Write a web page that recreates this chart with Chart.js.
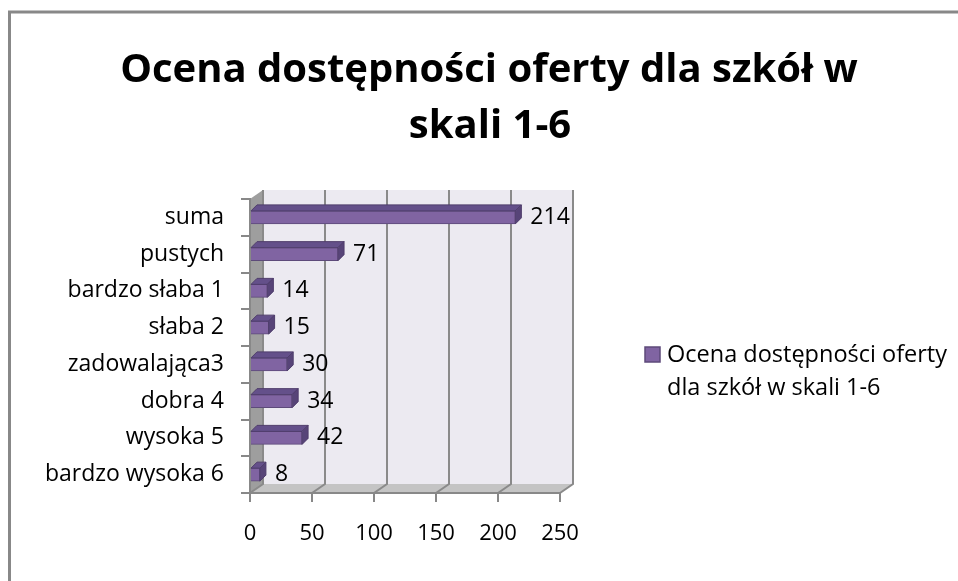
<!DOCTYPE html>
<html><head><meta charset="utf-8">
<script src="https://cdn.jsdelivr.net/npm/chart.js@4/dist/chart.umd.min.js"></script>
<style>html,body{margin:0;padding:0;background:#fff}#wrap{width:958px;height:581px}</style>
</head><body><div id="wrap"><canvas id="c" width="958" height="581"></canvas></div>
<script>
const titleLines = ["Ocena dostępności oferty dla szkół w", "skali 1-6"];
const categories = ["suma","pustych","bardzo słaba 1","słaba 2","zadowalająca3","dobra 4","wysoka 5","bardzo wysoka 6"];
const values = [214, 71, 14, 15, 30, 34, 42, 8];
const seriesName = "Ocena dostępności oferty dla szkół w skali 1-6";
const legendLines = ["Ocena dostępności oferty", "dla szkół w skali 1-6"];
const xTicks = [0, 50, 100, 150, 200, 250];

const FONT = "'Open Sans', sans-serif";
const DX = 13, DY = -9, BD = 6;

const decor = {
  id: 'decor',
  beforeDraw(chart) {
    const ctx = chart.ctx, a = chart.chartArea, xs = chart.scales.x;
    ctx.save();
    ctx.fillStyle = '#fff'; ctx.fillRect(0,0,chart.width,chart.height);
    ctx.strokeStyle = '#888'; ctx.lineWidth = 3;
    ctx.beginPath(); ctx.moveTo(9.5, chart.height+2); ctx.lineTo(9.5, 12); ctx.lineTo(chart.width+2, 12); ctx.stroke();
    ctx.fillStyle = '#ECEAF1';
    ctx.fillRect(a.left+DX, a.top+DY, a.right-a.left, a.bottom-a.top);
    ctx.fillStyle = '#9E9E9E';
    ctx.beginPath(); ctx.moveTo(a.left, a.top); ctx.lineTo(a.left+DX, a.top+DY); ctx.lineTo(a.left+DX, a.bottom+DY); ctx.lineTo(a.left, a.bottom); ctx.closePath(); ctx.fill();
    ctx.fillStyle = '#C4C4C4';
    ctx.beginPath(); ctx.moveTo(a.left, a.bottom); ctx.lineTo(a.right, a.bottom); ctx.lineTo(a.right+DX, a.bottom+DY); ctx.lineTo(a.left+DX, a.bottom+DY); ctx.closePath(); ctx.fill();
    ctx.strokeStyle = '#8A8A8A'; ctx.lineWidth = 2;
    xTicks.forEach(v => {
      const px = xs.getPixelForValue(v);
      ctx.beginPath();
      ctx.moveTo(px, a.bottom); ctx.lineTo(px+DX, a.bottom+DY); ctx.lineTo(px+DX, a.top+DY);
      ctx.stroke();
    });
    ctx.restore();
  },
  afterDatasetsDraw(chart) {
    const ctx = chart.ctx, meta = chart.getDatasetMeta(0);
    ctx.save();
    meta.data.forEach((bar, i) => {
      const p = bar.getProps(['x','y','base','height'], true);
      const t = p.y - p.height/2, b = p.y + p.height/2;
      ctx.fillStyle = '#64508A';
      ctx.strokeStyle = '#4F3D6C'; ctx.lineWidth = 1;
      ctx.beginPath(); ctx.moveTo(p.base, t); ctx.lineTo(p.base+BD, t-BD); ctx.lineTo(p.x+BD, t-BD); ctx.lineTo(p.x, t); ctx.closePath(); ctx.fill(); ctx.stroke();
      ctx.fillStyle = '#574478';
      ctx.beginPath(); ctx.moveTo(p.x, t); ctx.lineTo(p.x+BD, t-BD); ctx.lineTo(p.x+BD, b-BD); ctx.lineTo(p.x, b); ctx.closePath(); ctx.fill(); ctx.stroke();
      ctx.fillStyle = '#000'; ctx.font = "23px " + FONT;
      ctx.textAlign = 'left'; ctx.textBaseline = 'middle';
      ctx.fillText(String(values[i]), p.x + BD + 9, p.y);
    });
    ctx.restore();
  },
  afterDraw(chart) {
    const ctx = chart.ctx;
    ctx.save();
    ctx.fillStyle = '#000'; ctx.font = "bold 40px " + FONT;
    ctx.textAlign = 'center'; ctx.textBaseline = 'middle';
    ctx.fillText(titleLines[0], 489, 71);
    ctx.fillText(titleLines[1], 490, 127);
    ctx.fillStyle = '#8064A2'; ctx.strokeStyle = '#5D4A7A'; ctx.lineWidth = 1.5;
    ctx.fillRect(645, 347, 15, 15); ctx.strokeRect(645, 347, 15, 15);
    ctx.fillStyle = '#000'; ctx.font = "23.5px " + FONT;
    ctx.textAlign = 'left'; ctx.textBaseline = 'middle';
    ctx.fillText(legendLines[0], 667, 355);
    ctx.fillText(legendLines[1], 667, 388);
    ctx.restore();
  }
};

new Chart(document.getElementById('c'), {
  type: 'bar',
  data: { labels: categories, datasets: [{ label: seriesName, data: values,
    backgroundColor: '#8064A2', borderColor: '#5D4A7A', borderWidth: 1, barThickness: 13 }] },
  options: {
    indexAxis: 'y', responsive: false, animation: false,
    layout: { padding: { left: 0, top: 199, right: 398, bottom: 0 } },
    plugins: { legend: { display: false }, title: { display: false }, tooltip: { enabled: false } },
    scales: {
      x: { min: 0, max: 250, afterFit: s => { s.height = 88; },
        afterBuildTicks: s => { s.ticks = xTicks.map(v => ({ value: v })); },
        grid: { drawOnChartArea: false, tickLength: 9, color: '#888', lineWidth: 2 },
        border: { display: true, color: '#888', width: 2 },
        ticks: { color: '#000', font: { family: FONT, size: 22 }, padding: 19, maxRotation: 0 } },
      y: { afterFit: s => { s.width = 250; },
        grid: { offset: true, drawOnChartArea: false, tickLength: 9, color: '#888', lineWidth: 2 },
        border: { display: true, color: '#888', width: 2 },
        ticks: { color: '#000', font: { family: FONT, size: 23 }, padding: 17 } }
    }
  },
  plugins: [decor]
});
</script></body></html>
